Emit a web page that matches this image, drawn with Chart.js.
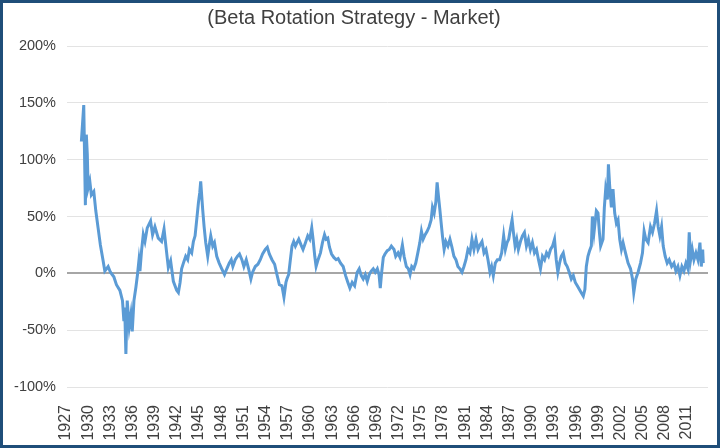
<!DOCTYPE html>
<html>
<head>
<meta charset="utf-8">
<script src="https://cdn.jsdelivr.net/npm/chart.js@4.4.1/dist/chart.umd.min.js"></script>
<style>
    body { margin: 0; background: #ffffff; }
    #wrap { position: relative; width: 720px; height: 448px; }
    #frame {
        position: absolute; left: 0; top: 0; right: 0; bottom: 0;
        border: 3px solid #1f4e79; pointer-events: none;
    }
</style>
</head>
<body>
<div id="wrap">
    <canvas id="betaChart" width="720" height="448"></canvas>
    <div id="frame"></div>
</div>
<script>
// =========================
// DATA
// =========================

const tickYears = [1927, 1930, 1933, 1936, 1939, 1942, 1945, 1948, 1951, 1954,
    1957, 1960, 1963, 1966, 1969, 1972, 1975, 1978, 1981, 1984, 1987, 1990,
    1993, 1996, 1999, 2002, 2005, 2008, 2011];

const yearPoints = [
    1929.08, 1929.40, 1929.62, 1929.75, 1929.88, 1929.99, 1930.22, 1930.43, 1930.76, 1931.03,
    1931.34, 1931.65, 1932.02, 1932.25, 1932.70, 1933.01, 1933.47, 1933.82, 1934.29, 1934.64,
    1934.83, 1934.94, 1935.10, 1935.28, 1935.55, 1935.78, 1935.96, 1936.19, 1936.46, 1936.67,
    1936.86, 1937.00, 1937.22, 1937.45, 1937.68, 1937.99, 1938.44, 1938.71, 1939.03, 1939.48,
    1939.93, 1940.26, 1940.53, 1940.84, 1941.15, 1941.52, 1941.97, 1942.20, 1942.43, 1942.64,
    1942.88, 1943.19, 1943.46, 1943.69, 1944.00, 1944.23, 1944.46, 1944.68, 1944.91, 1945.09,
    1945.22, 1945.36, 1945.49, 1945.68, 1945.90, 1946.17, 1946.36, 1946.58, 1946.85, 1947.08,
    1947.39, 1947.72, 1948.07, 1948.44, 1948.75, 1949.08, 1949.35, 1949.57, 1949.89, 1950.20,
    1950.47, 1950.79, 1951.06, 1951.38, 1951.70, 1952.01, 1952.24, 1952.60, 1952.96, 1953.28,
    1953.59, 1953.96, 1954.23, 1954.50, 1954.86, 1955.22, 1955.53, 1955.86, 1956.21, 1956.48,
    1956.75, 1956.88, 1957.12, 1957.35, 1957.57, 1957.80, 1958.03, 1958.25, 1958.48, 1958.79,
    1959.06, 1959.39, 1959.70, 1959.97, 1960.24, 1960.42, 1960.65, 1960.83, 1961.10, 1961.42,
    1961.69, 1961.97, 1962.18, 1962.41, 1962.64, 1962.92, 1963.23, 1963.54, 1963.81, 1964.14,
    1964.49, 1964.82, 1965.13, 1965.40, 1965.71, 1966.04, 1966.39, 1966.66, 1966.94, 1967.20,
    1967.48, 1967.75, 1968.02, 1968.29, 1968.56, 1968.83, 1969.11, 1969.34, 1969.51, 1969.70,
    1969.92, 1970.15, 1970.46, 1970.73, 1971.01, 1971.37, 1971.60, 1971.91, 1972.18, 1972.50,
    1972.73, 1973.04, 1973.31, 1973.54, 1973.77, 1974.04, 1974.31, 1974.59, 1974.86, 1975.08,
    1975.31, 1975.58, 1975.85, 1976.12, 1976.39, 1976.57, 1976.80, 1977.03, 1977.20, 1977.38,
    1977.57, 1977.75, 1977.92, 1978.15, 1978.38, 1978.66, 1978.93, 1979.20, 1979.47, 1979.74,
    1980.01, 1980.28, 1980.56, 1980.83, 1981.10, 1981.37, 1981.64, 1981.91, 1982.18, 1982.46,
    1982.73, 1983.00, 1983.27, 1983.54, 1983.81, 1984.08, 1984.35, 1984.57, 1984.80, 1985.07,
    1985.35, 1985.66, 1985.93, 1986.20, 1986.43, 1986.66, 1986.88, 1987.11, 1987.34, 1987.52,
    1987.75, 1987.97, 1988.19, 1988.47, 1988.74, 1989.01, 1989.28, 1989.55, 1989.82, 1990.09,
    1990.37, 1990.64, 1990.91, 1991.18, 1991.45, 1991.73, 1992.00, 1992.27, 1992.54, 1992.81,
    1993.08, 1993.31, 1993.53, 1993.76, 1993.99, 1994.26, 1994.53, 1994.80, 1995.07, 1995.35,
    1995.62, 1995.89, 1996.16, 1996.43, 1996.70, 1996.97, 1997.19, 1997.38, 1997.60, 1997.83,
    1998.06, 1998.20, 1998.42, 1998.74, 1998.96, 1999.15, 1999.32, 1999.64, 1999.82, 2000.00,
    2000.23, 2000.37, 2000.54, 2000.77, 2000.99, 2001.22, 2001.45, 2001.67, 2001.90, 2002.13,
    2002.35, 2002.68, 2003.03, 2003.36, 2003.63, 2003.80, 2004.07, 2004.38, 2004.71, 2004.98,
    2005.20, 2005.43, 2005.74, 2006.06, 2006.33, 2006.61, 2006.88, 2007.10, 2007.33, 2007.56,
    2007.78, 2008.05, 2008.32, 2008.59, 2008.92, 2009.23, 2009.50, 2009.77, 2010.04, 2010.31,
    2010.58, 2010.85, 2011.12, 2011.30, 2011.49, 2011.71, 2011.94, 2012.21, 2012.48, 2012.75,
    2012.93, 2013.12, 2013.20
];

// excess return of beta rotation over market, in %
const excessReturn = [
    116, 148, 60, 122, 105, 75, 81, 69, 72, 55,
    40, 25, 11, 2, 6, 1, -3, -10, -15, -24,
    -42, -30, -71, -24, -47, -36, -51, -24, -12, -1,
    11, 2, 20, 34, 28, 40, 46, 34, 41, 31,
    28, 39, 23, 5, 11, -7, -15, -17, -8, 4,
    9, 15, 12, 21, 18, 28, 33, 47, 62, 71,
    81, 68, 56, 41, 27, 15, 24, 33, 24, 27,
    15, 9, 4, -1, 4, 9, 12, 6, 12, 15,
    17, 12, 6, 12, 4, -5, 1, 6, 8, 12,
    17, 21, 23, 17, 12, 8, -1, -10, -11, -21,
    -8, -5, -1, 12, 24, 28, 24, 27, 30, 25,
    21, 27, 33, 30, 40, 30, 15, 6, 12, 18,
    27, 34, 30, 31, 23, 17, 14, 12, 13, 9,
    6, -2, -8, -13, -8, -11, 1, 4, -2, -5,
    -1, -7, -1, 2, 4, 1, 4, -1, -13, 1,
    14, 17, 20, 21, 24, 21, 15, 18, 14, 25,
    15, 6, 4, -1, 6, 4, 9, 18, 27, 37,
    30, 34, 37, 41, 47, 58, 53, 63, 80, 68,
    56, 44, 33, 21, 28, 24, 30, 23, 15, 12,
    6, 4, 1, 6, 12, 21, 18, 30, 21, 30,
    21, 25, 28, 18, 21, 12, 1, 6, -2, 9,
    12, 12, 18, 33, 21, 27, 30, 39, 47, 36,
    24, 30, 21, 28, 33, 36, 24, 30, 21, 27,
    18, 21, 12, 4, 15, 12, 18, 15, 21, 24,
    30, 12, 1, 9, 15, 18, 9, 6, 1, -5,
    -2, -8, -11, -14, -17, -20, -14, 6, 15, 20,
    24, 50, 36, 55, 53, 36, 24, 30, 58, 74,
    65, 96, 77, 58, 74, 53, 44, 47, 30, 21,
    27, 18, 9, 4, -5, -17, -5, 1, 9, 18,
    37, 30, 27, 41, 36, 44, 55, 41, 33, 41,
    24, 15, 9, 12, 6, 9, 2, 6, -2, 6,
    2, 9, 4, 36, 12, 21, 12, 18, 12, 27,
    6, 21, 9
];

const yTicks = [-100, -50, 0, 50, 100, 150, 200];

// =========================
// CHART
// =========================

Chart.defaults.font.family = "'Liberation Sans', Arial, sans-serif";

const points = yearPoints.map((yr, i) => ({ x: yr, y: excessReturn[i] }));

new Chart(document.getElementById("betaChart"), {
    type: "line",
    data: {
        datasets: [{
            label: "Beta Rotation Strategy - Market",
            data: points,
            borderColor: "#5b9bd5",
            borderWidth: 3,
            pointRadius: 0,
            tension: 0,
            fill: false
        }]
    },
    options: {
        responsive: false,
        animation: false,
        layout: { padding: { left: 0, right: 12, top: 0, bottom: 0 } },
        plugins: {
            legend: { display: false },
            tooltip: { enabled: false },
            title: {
                display: true,
                text: "(Beta Rotation Strategy - Market)",
                color: "#404040",
                font: { size: 20, weight: "normal" },
                padding: { top: 6, bottom: 16 }
            }
        },
        scales: {
            x: {
                type: "linear",
                min: 1927.135,
                max: 2013.84,
                afterBuildTicks: s => { s.ticks = tickYears.map(v => ({ value: v })); },
                afterFit: s => { s.height = 61; },
                grid: { display: false },
                border: { display: false },
                ticks: {
                    autoSkip: false,
                    minRotation: 90,
                    maxRotation: 90,
                    padding: 10,
                    color: "#404040",
                    font: { size: 16 },
                    callback: v => String(v)
                }
            },
            y: {
                min: yTicks[0],
                max: yTicks[yTicks.length - 1],
                afterBuildTicks: s => { s.ticks = yTicks.map(v => ({ value: v })); },
                afterFit: s => { s.width = 67; },
                border: { display: false },
                grid: {
                    drawTicks: false,
                    color: ctx => ctx.tick.value === 0 ? "#a6a6a6" : "#e3e3e3",
                    lineWidth: ctx => ctx.tick.value === 0 ? 2 : 1
                },
                ticks: {
                    padding: 11,
                    color: "#404040",
                    font: { size: 14.5 },
                    callback: v => v + "%"
                }
            }
        }
    }
});
</script>
</body>
</html>
